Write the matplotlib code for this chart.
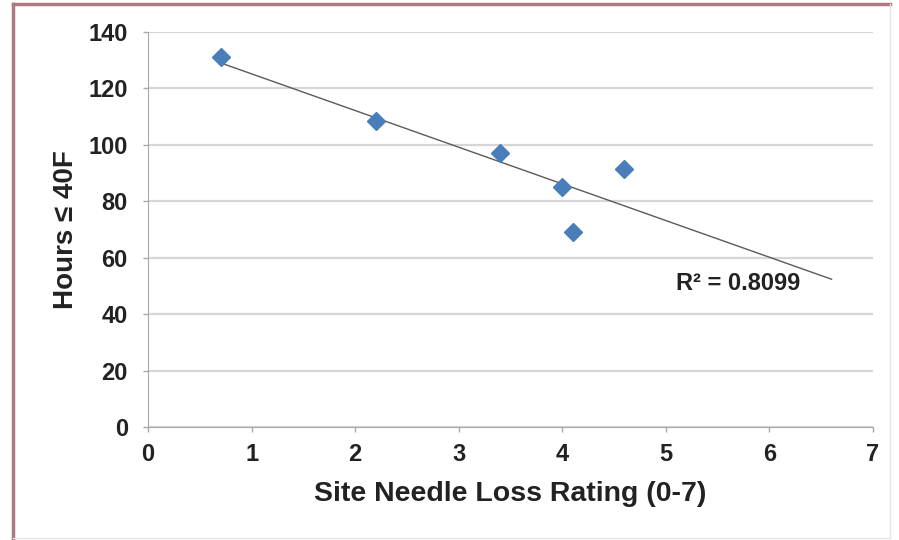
import numpy as np
import matplotlib
matplotlib.use("Agg")
import matplotlib.pyplot as plt
from matplotlib.lines import Line2D

plt.rcParams['font.family'] = ['Liberation Sans', 'DejaVu Sans']
plt.rcParams['font.weight'] = 'bold'

# needle loss rating vs hours at or below 40F
rating = [0.7, 2.2, 3.4, 4.0, 4.1, 4.6]
hours = [131, 108.5, 97, 85, 69, 91.5]
r2_label = "R² = 0.8099"
trend_x = [0.7, 6.6]

xticks = list(range(0, 8))
yticks = list(range(0, 141, 20))

fig = plt.figure(figsize=(8.99, 5.4), dpi=100)
ax = fig.add_axes([148 / 899, 1 - 427 / 540, 725 / 899, 395 / 540])

# linear trendline
slope, icpt = np.polyfit(rating, hours, 1)
tx = np.array(trend_x)
ax.plot(tx, slope * tx + icpt, color='#5a5a5a', lw=1.0, zorder=2)

ax.plot(rating, hours, linestyle='none', marker='D', markersize=9.5,
        color='#4A7EBB', markeredgecolor='#4A7EBB', zorder=3)

ax.text(5.10, 51, r2_label, fontsize=17, fontweight='bold', color='#222222',
        va='center', ha='left')

ax.set_xlim(0, 7)
ax.set_ylim(0, 140)
ax.set_xticks(xticks)
ax.set_yticks(yticks)
ax.grid(axis='y', color='#d6d6d6', lw=1.6)
ax.set_axisbelow(True)
for s in ['top', 'right']:
    ax.spines[s].set_visible(False)
ax.spines['left'].set_color('#a8a8a8')
ax.spines['bottom'].set_color('#a8a8a8')
ax.tick_params(axis='both', colors='#a8a8a8', labelcolor='#222222',
               labelsize=17, length=3.5, width=1)
ax.tick_params(axis='x', pad=8)
ax.tick_params(axis='y', pad=11)
ax.set_xlabel("Site Needle Loss Rating (0-7)", fontsize=20.5, fontweight='bold',
              color='#222222', labelpad=11)
ax.set_ylabel("Hours ≤ 40F", fontsize=20, fontweight='bold', color='#222222',
              labelpad=7)

# outer frame
fig.add_artist(Line2D([13 / 899, 890 / 899], [1 - 4 / 540, 1 - 4 / 540],
                      transform=fig.transFigure, color='#b07880', lw=2.5))
fig.add_artist(Line2D([13 / 899, 13 / 899], [1 - 4 / 540, 2 / 540],
                      transform=fig.transFigure, color='#b07880', lw=2.5))
fig.add_artist(Line2D([890 / 899, 890 / 899], [1 - 4 / 540, 2 / 540],
                      transform=fig.transFigure, color='#e6e6e6', lw=1))
fig.add_artist(Line2D([13 / 899, 890 / 899], [2 / 540, 2 / 540],
                      transform=fig.transFigure, color='#e6e6e6', lw=1))

fig.savefig("out.png", dpi=100)
